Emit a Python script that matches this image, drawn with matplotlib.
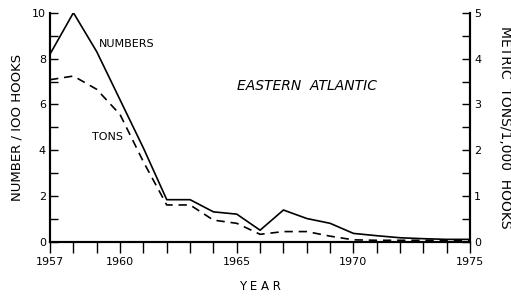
import matplotlib.pyplot as plt
from matplotlib.ticker import MultipleLocator

# values
years = list(range(1957, 1976))
numbers = [8.2, 10.0, 8.3, 6.2, 4.1, 1.85, 1.85, 1.32, 1.22, 0.52, 1.40,
           1.03, 0.82, 0.38, 0.28, 0.19, 0.15, 0.12, 0.12]
tons = [3.54, 3.62, 3.33, 2.78, 1.75, 0.81, 0.81, 0.48, 0.41, 0.17, 0.23,
        0.23, 0.13, 0.05, 0.04, 0.04, 0.04, 0.04, 0.04]

x_labels = [1957, 1960, 1965, 1970, 1975]

plt.rcParams['font.family'] = 'DejaVu Sans'
plt.rcParams['font.size'] = 8

fig = plt.figure(figsize=(5.11, 2.96), dpi=100)
ax = fig.add_axes([0.098, 0.182, 0.822, 0.775])
ax2 = ax.twinx()

ax.plot(years, numbers, color='black', lw=1.2)
ax2.plot(years, tons, color='black', lw=1.2, dashes=(5, 3.5))

ax.set_xlim(1957, 1975)
ax.set_ylim(0, 10)
ax2.set_ylim(0, 5)

for a in (ax, ax2):
    a.spines['top'].set_visible(False)
    for s in a.spines.values():
        s.set_linewidth(1.5)

ax.set_xticks(x_labels)
ax.xaxis.set_minor_locator(MultipleLocator(1))
ax.yaxis.set_major_locator(MultipleLocator(2))
ax.yaxis.set_minor_locator(MultipleLocator(1))
ax2.yaxis.set_major_locator(MultipleLocator(1))
ax2.yaxis.set_minor_locator(MultipleLocator(0.5))

ax.tick_params(axis='x', which='both', direction='out', length=8, width=1, pad=3)
ax.tick_params(axis='y', which='both', direction='in', length=6, width=1, pad=3)
ax2.tick_params(axis='y', which='both', direction='in', length=6, width=1, pad=3)

ax.set_xlabel('Y E A R', fontsize=8.5, labelpad=9)
ax.set_ylabel('NUMBER / IOO HOOKS', fontsize=9.5, labelpad=6)
ax2.set_ylabel('METRIC  TONS/1,000  HOOKS', fontsize=10, rotation=-90, labelpad=22)

ax.text(1959.1, 8.65, 'NUMBERS', fontsize=8, va='center')
ax.text(1958.8, 4.6, 'TONS', fontsize=8, va='center')
ax.text(1965.0, 6.8, 'EASTERN  ATLANTIC', fontsize=10, style='italic', va='center')

fig.savefig('out.png', dpi=100)
